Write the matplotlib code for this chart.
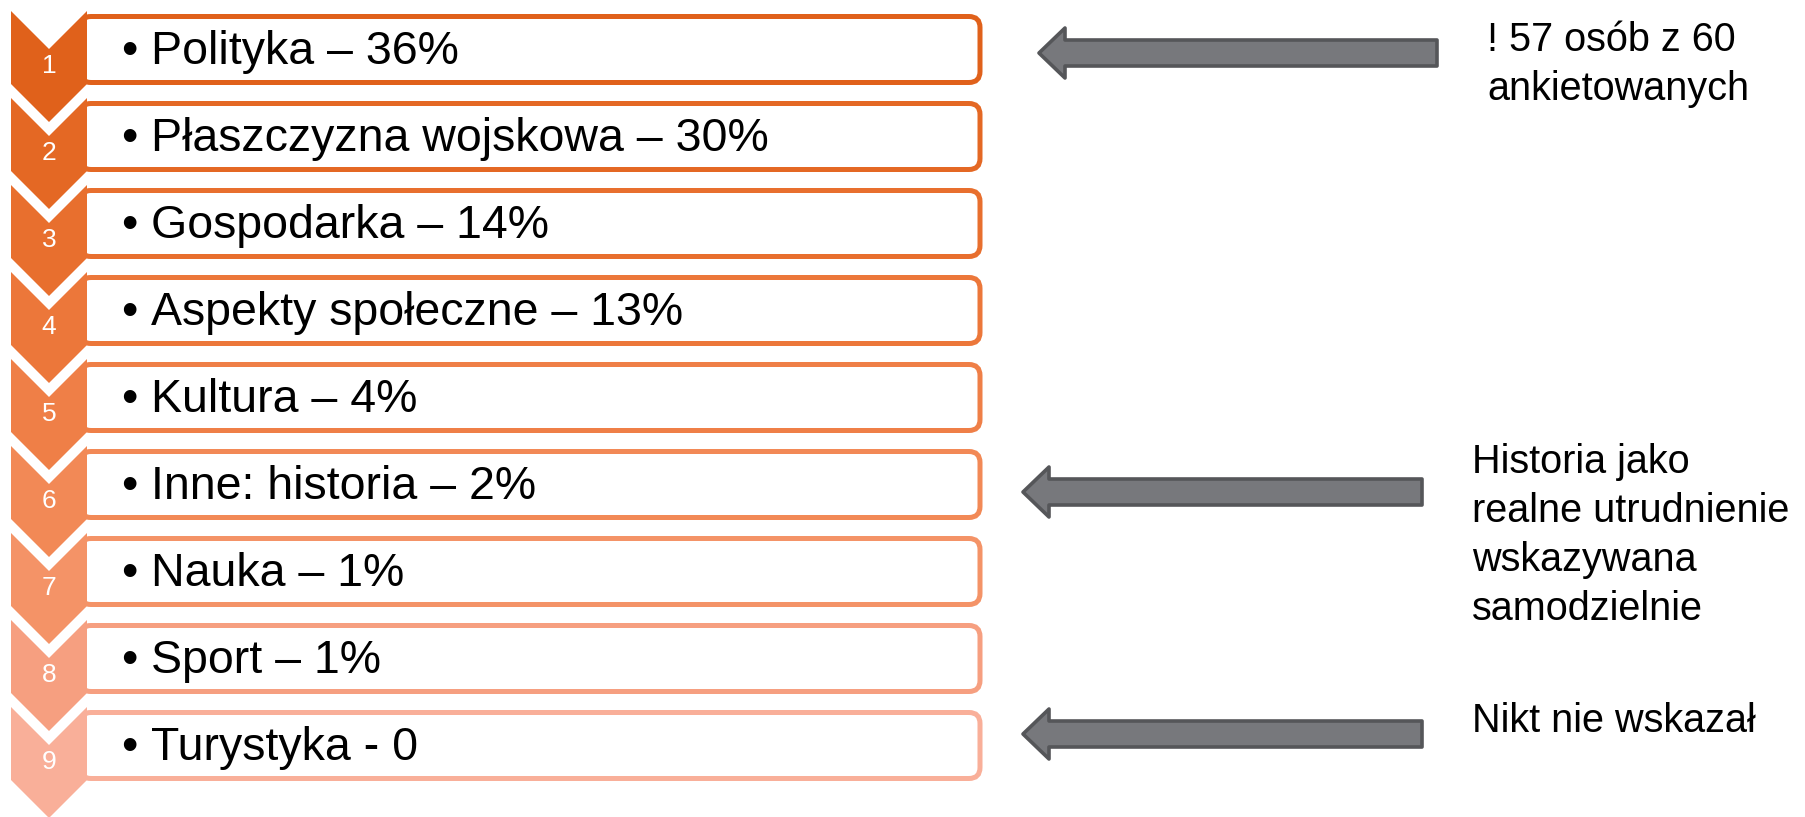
import matplotlib
matplotlib.use('Agg')
import matplotlib.pyplot as plt
from matplotlib.patches import Polygon, FancyBboxPatch

# Dane: kategorie i odsetki
categories = ['Polityka', 'Płaszczyzna wojskowa', 'Gospodarka', 'Aspekty społeczne',
              'Kultura', 'Inne: historia', 'Nauka', 'Sport', 'Turystyka']
values = ['36%', '30%', '14%', '13%', '4%', '2%', '1%', '1%', '0']
separators = ['–', '–', '–', '–', '–', '–', '–', '–', '-']

# Adnotacje po prawej stronie
note_texts = [['! 57 osób z 60', 'ankietowanych'],
              ['Historia jako', 'realne utrudnienie', 'wskazywana', 'samodzielnie'],
              ['Nikt nie wskazał']]
note_rows = [0, 5, 8]

# Kolory (od ciemnego do jasnego pomarańczowego)
colors = ['#E0611B', '#E46824', '#E86F2E', '#EC773A', '#EF7F47',
          '#F28956', '#F49367', '#F69F80', '#F9AF99']

W, H = 1805, 817
fig = plt.figure(figsize=(W / 100, H / 100), dpi=100)
ax = fig.add_axes([0, 0, 1, 1])
ax.set_xlim(0, W)
ax.set_ylim(H, 0)
ax.axis('off')

step = 87
top0 = 11
chev_l, chev_r = 11, 87
chev_h, notch = 111, 38
box_right = 980

for i, (cat, val, sep) in enumerate(zip(categories, values, separators)):
    t = top0 + i * step
    c = colors[i]
    # ramka z zaokraglonymi rogami
    box = FancyBboxPatch((80, t + 5.5), box_right - 80, 66,
                         boxstyle='round,pad=0,rounding_size=11',
                         facecolor='white', edgecolor=c, linewidth=3.6, zorder=1)
    ax.add_patch(box)
    # strzalka w dol (chevron)
    mid = (chev_l + chev_r) / 2
    pts = [(chev_l, t), (mid, t + notch), (chev_r, t), (chev_r, t + chev_h - notch),
           (mid, t + chev_h), (chev_l, t + chev_h - notch)]
    ax.add_patch(Polygon(pts, closed=True, facecolor=c, edgecolor='none', zorder=2))
    ax.text(mid, t + 55, str(i + 1), color='white', fontsize=19,
            family='Liberation Sans', ha='center', va='center', zorder=3)
    # tekst
    ax.text(121, t + 53, '•', fontsize=33.5, family='Liberation Sans',
            ha='left', va='baseline', zorder=3)
    ax.text(151, t + 53, f'{cat} {sep} {val}', fontsize=33.5, family='Liberation Sans',
            ha='left', va='baseline', zorder=3)

# strzalki i opisy
arrow_y = [53, 492, 734]
arrow_tip = [1039, 1023, 1023]
arrow_end = [1437, 1422, 1422]
text_x = [1487, 1472, 1472]
first_base = [51, 473, 732]
line_gap = 49

for k, lines in enumerate(note_texts):
    y = arrow_y[k]
    x0, x1 = arrow_tip[k], arrow_end[k]
    hb = x0 + 26
    pts = [(x0, y), (hb, y - 25), (hb, y - 13), (x1, y - 13),
           (x1, y + 13), (hb, y + 13), (hb, y + 25)]
    ax.add_patch(Polygon(pts, closed=True, facecolor='#77787C', edgecolor='#555659',
                         linewidth=2.6, joinstyle='round', zorder=2))
    for j, line in enumerate(lines):
        ax.text(text_x[k], first_base[k] + j * line_gap, line, fontsize=28.5,
                family='Liberation Sans', ha='left', va='baseline', color='black')

fig.savefig('out.png', dpi=100)
